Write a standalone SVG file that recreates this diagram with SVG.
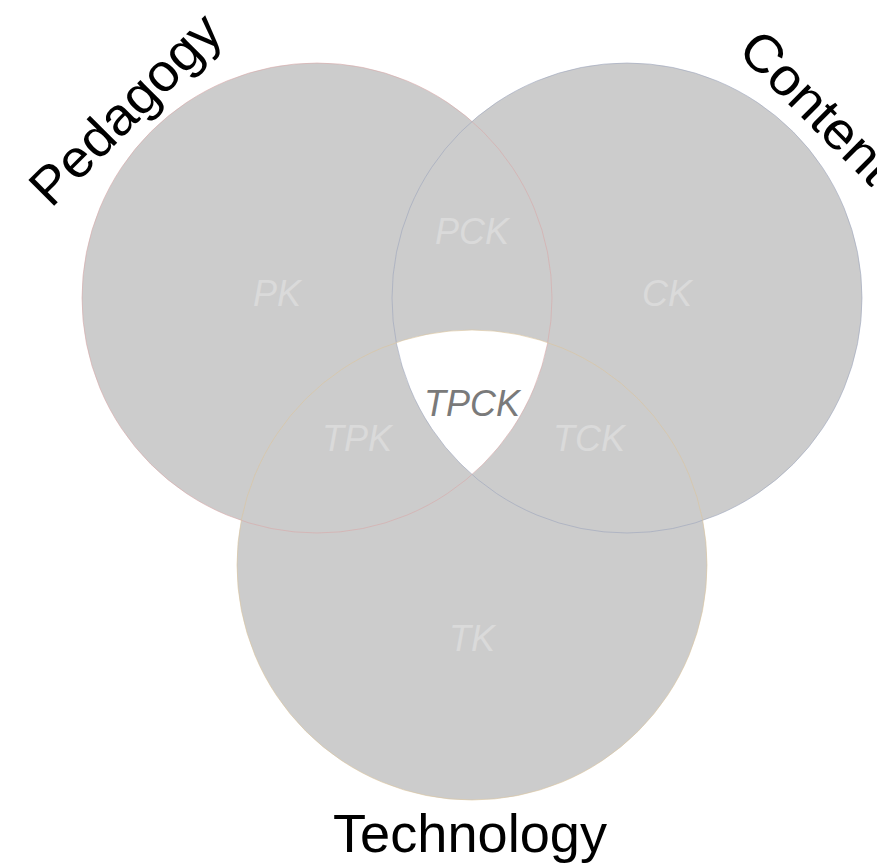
<svg xmlns="http://www.w3.org/2000/svg" width="877" height="866" viewBox="0 0 877 866">
<style>
.fill{fill:#cccccc;stroke:none}
.edge{fill:none;stroke-width:0.6}
.title{font-family:"Liberation Sans",Arial,sans-serif;font-size:53px;fill:#000000}
.lab{font-family:"Liberation Sans",Arial,sans-serif;font-size:36px;font-style:italic;fill:#dadada;text-anchor:middle}
</style>
<rect width="877" height="866" fill="#ffffff"/>
<g id="circles-fill">
<circle class="fill" cx="317" cy="298" r="235"/>
<circle class="fill" cx="627" cy="298" r="235"/>
<circle class="fill" cx="472" cy="565" r="235"/>
<path id="tpck-region" d="M396.2 342.5 A235 235 0 0 1 547.8 342.5 A235 235 0 0 1 472 474.6 A235 235 0 0 1 396.2 342.5 Z" fill="#ffffff"/>
</g>
<g id="connectors">
<circle class="edge" cx="317" cy="298" r="235" stroke="#d8a8a8"/>
<circle class="edge" cx="627" cy="298" r="235" stroke="#9ca4bc"/>
<circle class="edge" cx="472" cy="565" r="235" stroke="#dcc49c"/>
</g>
<g id="node-pedagogy"><text class="title" transform="translate(51,209) rotate(-45)" textLength="246" lengthAdjust="spacingAndGlyphs">Pedagogy</text></g>
<g id="node-content"><text class="title" transform="translate(736,52) rotate(45)" textLength="192" lengthAdjust="spacingAndGlyphs">Content</text></g>
<g id="node-technology"><text class="title" x="333" y="852" textLength="274" lengthAdjust="spacingAndGlyphs">Technology</text></g>
<g id="node-pk"><text class="lab" x="277" y="306">PK</text></g>
<g id="node-ck"><text class="lab" x="667" y="306">CK</text></g>
<g id="node-pck"><text class="lab" x="472" y="244">PCK</text></g>
<g id="node-tpk"><text class="lab" x="357" y="451">TPK</text></g>
<g id="node-tck"><text class="lab" x="589" y="451">TCK</text></g>
<g id="node-tk"><text class="lab" x="472" y="651">TK</text></g>
<g id="node-tpck"><text class="lab" x="472" y="416" style="fill:#7a7a7a">TPCK</text></g>
</svg>
